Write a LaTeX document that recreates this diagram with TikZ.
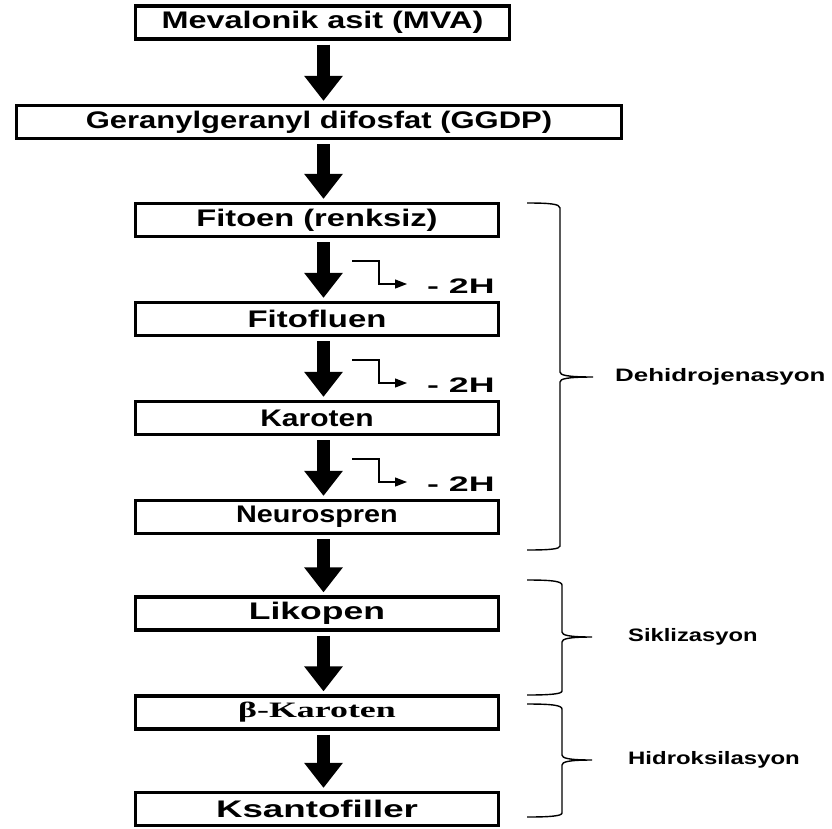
\documentclass[tikz,border=0pt]{standalone}
\usepackage{fontspec}
\setmainfont{Liberation Sans}
\newfontfamily\serifbold{Liberation Serif}
\usetikzlibrary{arrows.meta,calc}
\newcommand{\sxx}[2]{\scalebox{#1}[1]{#2}}
\begin{document}
\begin{tikzpicture}[x=1pt,y=-1pt,
  stepbox/.style={draw, line width=3.2pt, minimum height=33pt, inner sep=0pt,
    font=\bfseries\fontsize{24}{24}\selectfont},
  bigarrow/.style={line width=13pt, -{Triangle[length=25pt,width=37pt]},
    shorten <=4pt, shorten >=3pt},
  sidearrow/.style={line width=1.2pt, -{Triangle[length=12pt,width=9pt]}},
  bracestyle/.style={line width=1.4pt},
  lbl/.style={font=\bfseries\fontsize{18}{18}\selectfont, anchor=west, inner sep=0pt},
  hlbl/.style={font=\bfseries\fontsize{21}{21}\selectfont, anchor=west, inner sep=0pt}]
\fill[white] (0,0) rectangle (832,828);
\useasboundingbox (0,0) rectangle (832,828);
\coordinate (ax) at (323.5,0);
% boxes
\node[stepbox, minimum width=374pt] (mva) at (322.5,22.5) {\sxx{1.35}{Mevalonik asit (MVA)}};
\node[stepbox, minimum width=605pt] (ggdp) at (319,122) {\sxx{1.29}{Geranylgeranyl difosfat (GGDP)}};
\node[stepbox, minimum width=363pt] (fitoen) at (317,220) {\sxx{1.36}{Fitoen (renksiz)}};
\node[stepbox, minimum width=363pt] (fitofluen) at (317,319) {\sxx{1.37}{Fitofluen}};
\node[stepbox, minimum width=363pt] (karoten) at (317,418) {\sxx{1.25}{Karoten}};
\node[stepbox, minimum width=363pt] (neuro) at (317,517) {\sxx{1.2}{Neurospren}};
\node[stepbox, minimum width=363pt] (likopen) at (317,613.5) {\sxx{1.48}{Likopen}};
\node[stepbox, minimum width=363pt] (bkar) at (317,712.5) {\serifbold\fontsize{22}{22}\selectfont\sxx{1.63}{β-Karoten}};
\node[stepbox, minimum width=363pt] (ksanto) at (317,809) {\sxx{1.53}{Ksantofiller}};
% big arrows
\draw[bigarrow] (mva.south -| ax) -- (ggdp.north -| ax);
\draw[bigarrow] (ggdp.south -| ax) -- (fitoen.north -| ax);
\draw[bigarrow] (fitoen.south -| ax) -- (fitofluen.north -| ax);
\draw[bigarrow] (fitofluen.south -| ax) -- (karoten.north -| ax);
\draw[bigarrow] (karoten.south -| ax) -- (neuro.north -| ax);
\draw[bigarrow] (neuro.south -| ax) -- (likopen.north -| ax);
\draw[bigarrow] (likopen.south -| ax) -- (bkar.north -| ax);
\draw[bigarrow] (bkar.south -| ax) -- (ksanto.north -| ax);
% side arrows (-2H)
\node[hlbl] (h1) at (427,286) {\sxx{1.7}{- 2H}};
\node[hlbl] (h2) at (427,385) {\sxx{1.7}{- 2H}};
\node[hlbl] (h3) at (427,484) {\sxx{1.7}{- 2H}};
\coordinate (s1) at (352,261);
\coordinate (s2) at (352,360);
\coordinate (s3) at (352,459);
\draw[sidearrow] (s1) -- ++(27,0) |- ([xshift=-20pt,yshift=2pt]h1.west);
\draw[sidearrow] (s2) -- ++(27,0) |- ([xshift=-20pt,yshift=2pt]h2.west);
\draw[sidearrow] (s3) -- ++(27,0) |- ([xshift=-20pt,yshift=2pt]h3.west);
% braces
\draw[bracestyle] (527,203) .. controls (550,203) and (560,204) .. (560,208) -- (560,372)
  .. controls (560,375) and (566,377) .. (593,377)
  .. controls (566,377) and (560,379) .. (560,382) -- (560,546)
  .. controls (560,549) and (550,550) .. (527,550);
\draw[bracestyle] (527,580) .. controls (550,580) and (562,581) .. (562,585) -- (562,632)
  .. controls (562,635) and (568,637) .. (592,637)
  .. controls (568,637) and (562,639) .. (562,642) -- (562,691)
  .. controls (562,694) and (550,695) .. (527,695);
\draw[bracestyle] (527,704) .. controls (550,704) and (562,705) .. (562,709) -- (562,755)
  .. controls (562,758) and (568,760) .. (592,760)
  .. controls (568,760) and (562,762) .. (562,765) -- (562,813)
  .. controls (562,816) and (550,817) .. (527,817);
% labels
\node[lbl] (dehid) at (615,377) {\sxx{1.44}{Dehidrojenasyon}};
\node[lbl] (sikl) at (628,637) {\sxx{1.32}{Siklizasyon}};
\node[lbl] (hidr) at (628,760) {\sxx{1.33}{Hidroksilasyon}};
\end{tikzpicture}
\end{document}
